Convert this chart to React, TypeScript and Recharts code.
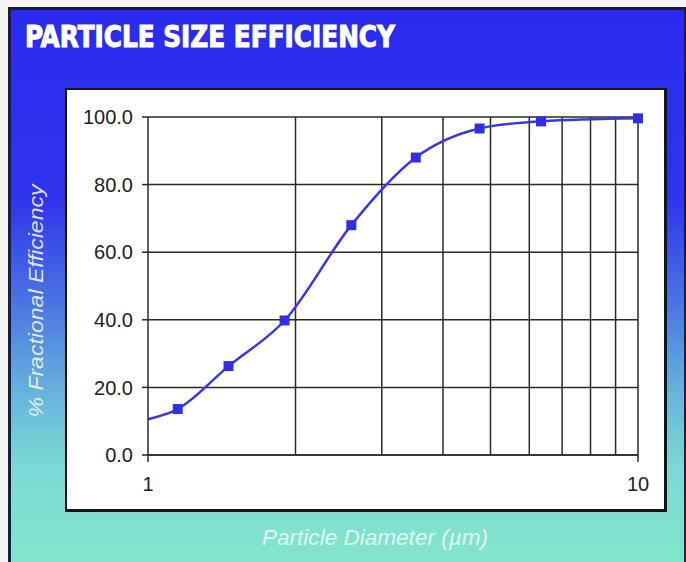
import { LineChart, Line, XAxis, YAxis, CartesianGrid, ReferenceLine } from "recharts"

const diameters = [1, 1.15, 1.46, 1.9, 2.6, 3.52, 4.75, 6.34, 10];
const efficiency = [10.6, 13.6, 26.3, 39.8, 68, 88, 96.6, 98.7, 99.6];
const hasMarker = [false, true, true, true, true, true, true, true, true];

const xTicks = [1, 10];
const yTicks = [0, 20, 40, 60, 80, 100];
const xGridValues = [2, 3, 4, 5, 6, 7, 8, 9, 10];

const data = diameters.map((d, i) => ({ d, eff: efficiency[i], mark: hasMarker[i] }));

const gridColor = "#2a2a2a";
const tickFont = { fontFamily: "'Liberation Sans', Arial, sans-serif", fontSize: 20, fill: "#222" };

function SquareDot(props: any) {
  const { cx, cy, index, payload } = props;
  if (!payload.mark) return <g key={`dot-${index}`} />;
  return <rect key={`dot-${index}`} x={cx - 5} y={cy - 5} width={10} height={10} fill="#2f2fe6" />;
}

export default function App() {
  return (
    <div style={{ position: "absolute", left: 0, top: 0, width: 686, height: 562, background: "#f4f4f2", overflow: "hidden" }}>
      {/* gradient frame */}
      <div
        style={{
          position: "absolute", left: 8, top: 7, width: 678, height: 555, boxSizing: "border-box",
          borderLeft: "3px solid #1c1c3c", borderTop: "3px solid #1c1c3c", borderRight: "2px solid #1c1c3c",
          background: "linear-gradient(to bottom, #2b2bef 0%, #2f33ec 34%, #4a74e4 53%, #68b6dc 70%, #7cd9d4 83%, #82e6cc 100%)",
        }}
      />
      {/* white panel */}
      <div
        style={{
          position: "absolute", left: 65, top: 88, width: 602, height: 424, boxSizing: "border-box",
          background: "#fff", borderLeft: "2px solid #151515", borderTop: "2px solid #151515",
          borderRight: "3px solid #151515", borderBottom: "3px solid #151515",
        }}
      />
      <div style={{ position: "absolute", left: 0, top: 0 }}>
        <LineChart width={686} height={562} data={data} margin={{ top: 117, right: 48, bottom: 77, left: 0 }}>
          <CartesianGrid vertical={false} stroke={gridColor} strokeWidth={1.5} />
          {xGridValues.map((v) => (
            <ReferenceLine key={v} x={v} stroke={gridColor} strokeWidth={1.5} />
          ))}
          <XAxis
            type="number"
            dataKey="d"
            scale="log"
            domain={[1, 10]}
            ticks={xTicks}
            height={30}
            tickSize={7}
            tickMargin={15}
            axisLine={{ stroke: gridColor, strokeWidth: 1.5 }}
            tickLine={{ stroke: gridColor, strokeWidth: 1.5 }}
            tick={tickFont}
          />
          <YAxis
            type="number"
            domain={[0, 100]}
            ticks={yTicks}
            width={148}
            tickSize={6}
            tickMargin={9}
            tickFormatter={(v: number) => v.toFixed(1)}
            axisLine={{ stroke: gridColor, strokeWidth: 1.5 }}
            tickLine={{ stroke: gridColor, strokeWidth: 1.5 }}
            tick={tickFont}
          />
          <Line
            type="monotone"
            dataKey="eff"
            stroke="#3737e6"
            strokeWidth={2.5}
            dot={SquareDot}
            activeDot={false}
            isAnimationActive={false}
          />
        </LineChart>
      </div>
      {/* title and axis titles */}
      <svg width={686} height={562} style={{ position: "absolute", left: 0, top: 0, pointerEvents: "none" }}>
        <text
          x={25}
          y={47}
          fontFamily="'Liberation Sans Narrow', 'DejaVu Sans Condensed', Arial, sans-serif"
          fontWeight={700}
          fontSize={30}
          fill="#fff"
          stroke="#fff"
          strokeWidth={1}
          textLength={370}
          lengthAdjust="spacingAndGlyphs"
        >
          PARTICLE SIZE EFFICIENCY
        </text>
        <text
          x={43}
          y={301}
          transform="rotate(-90 43 301)"
          textAnchor="middle"
          fontFamily="'Liberation Sans Narrow', 'Liberation Sans', Arial, sans-serif"
          fontStyle="italic"
          fontSize={21}
          fill="#f2f6ff"
          fillOpacity={0.9}
          textLength={233}
          lengthAdjust="spacingAndGlyphs"
        >
          % Fractional Efficiency
        </text>
        <text
          x={375}
          y={545}
          textAnchor="middle"
          fontFamily="'Liberation Sans Narrow', 'Liberation Sans', Arial, sans-serif"
          fontStyle="italic"
          fontSize={22}
          fill="#ffffff"
          fillOpacity={0.75}
          textLength={226}
          lengthAdjust="spacingAndGlyphs"
        >
          Particle Diameter (µm)
        </text>
      </svg>
    </div>
  )
}
